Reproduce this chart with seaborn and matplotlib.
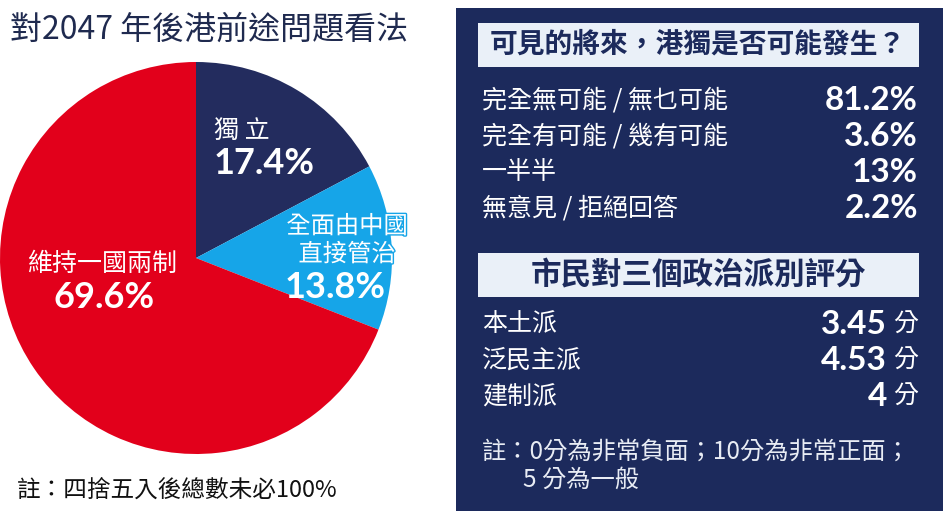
import matplotlib
matplotlib.use("Agg")
import matplotlib.pyplot as plt
import matplotlib.patheffects as pe
import seaborn as sns
from matplotlib.patches import Rectangle

# pie data
pie_labels = ["獨 立", "全面由中國\n直接管治", "維持一國兩制"]
pie_values = [17.4, 13.8, 69.6]
pie_colors = ["#232c5e", "#16a5e8", "#e2001b"]

# table 1
q1_title = "可見的將來，港獨是否可能發生？"
q1_items = ["完全無可能 / 無乜可能", "完全有可能 / 幾有可能", "一半半", "無意見 / 拒絕回答"]
q1_values = ["81.2%", "3.6%", "13%", "2.2%"]

# table 2
q2_title = "市民對三個政治派別評分"
q2_items = ["本土派", "泛民主派", "建制派"]
q2_scores = ["3.45", "4.53", "4"]

NAVY = "#1c2a5c"
BOX = "#eaf0f8"
NUM_FONT = ["Lato", "DejaVu Sans"]

sns.set_theme(style="white")
plt.rcParams["font.family"] = ["Noto Sans CJK TC", "DejaVu Sans"]

fig = plt.figure(figsize=(9.43, 5.11), dpi=100)
fig.patch.set_facecolor("white")

# overlay in pixel coordinates for the text layout
bg = fig.add_axes([0, 0, 1, 1])
bg.set_xlim(0, 943)
bg.set_ylim(511, 0)
bg.axis("off")

bg.text(10, 30, "對2047 年後港前途問題看法", fontsize=23, color="#1f2a4f",
        va="center", ha="left")
bg.text(17, 490, "註：四捨五入後總數未必100%", fontsize=17, color="#111111",
        va="center", ha="left")

# right panel
bg.add_patch(Rectangle((456, 8), 487, 503, facecolor=NAVY, edgecolor="none"))

def title_box(y0, y1, text, size):
    bg.add_patch(Rectangle((478, y0), 441, y1 - y0, facecolor=BOX, edgecolor="none"))
    bg.text(698, (y0 + y1) / 2, text, fontsize=size, fontweight="bold",
            color=NAVY, ha="center", va="center")

title_box(23, 67, q1_title, 20)
for i, (lab, val) in enumerate(zip(q1_items, q1_values)):
    y = 100 + i * 36
    bg.text(482, y, lab, fontsize=18, color="white", ha="left", va="center")
    bg.text(918, y, val, fontsize=24, fontweight="bold", color="white",
            ha="right", va="center", family=NUM_FONT)

title_box(253, 297, q2_title, 22)
for i, (lab, val) in enumerate(zip(q2_items, q2_scores)):
    y = 325 + i * 36
    bg.text(482, y, lab, fontsize=18, color="white", ha="left", va="center")
    bg.text(887, y, val, fontsize=24, fontweight="bold", color="white",
            ha="right", va="center", family=NUM_FONT)
    bg.text(918, y, "分", fontsize=18, color="white", ha="right", va="center")

bg.text(482, 452, "註：0分為非常負面；10分為非常正面；", fontsize=17.5,
        color="#e8ecf4", ha="left", va="center")
bg.text(523, 480, "5 分為一般", fontsize=17.5, color="#e8ecf4", ha="left", va="center")

# pie
ax = fig.add_axes([0, (511 - 454) / 511, 392 / 943, 392 / 511])
ax.pie(pie_values, colors=pie_colors, startangle=90, counterclock=False,
       radius=1, wedgeprops=dict(linewidth=0))
ax.set_xlim(-1, 1)
ax.set_ylim(-1, 1)
ax.set_aspect("equal")
ax.axis("off")

# slice annotations
blue_edge = [pe.withStroke(linewidth=2, foreground=pie_colors[1])]
ax.text(0.09, 0.65, pie_labels[0], fontsize=18, color="white", ha="left", va="center")
ax.text(0.09, 0.48, f"{pie_values[0]}%", fontsize=26, fontweight="bold", color="white",
        ha="left", va="center", family=NUM_FONT)
ax.text(0.77, 0.09, pie_labels[1], fontsize=17.5, color="white", ha="center", va="center",
        linespacing=1.1, path_effects=blue_edge)
ax.text(0.71, -0.15, f"{pie_values[1]}%", fontsize=26, fontweight="bold", color="white",
        ha="center", va="center", family=NUM_FONT)
ax.text(-0.48, -0.03, pie_labels[2], fontsize=18, color="white", ha="center", va="center")
ax.text(-0.47, -0.20, f"{pie_values[2]}%", fontsize=26, fontweight="bold", color="white",
        ha="center", va="center", family=NUM_FONT)

fig.savefig("out.png", dpi=100)
